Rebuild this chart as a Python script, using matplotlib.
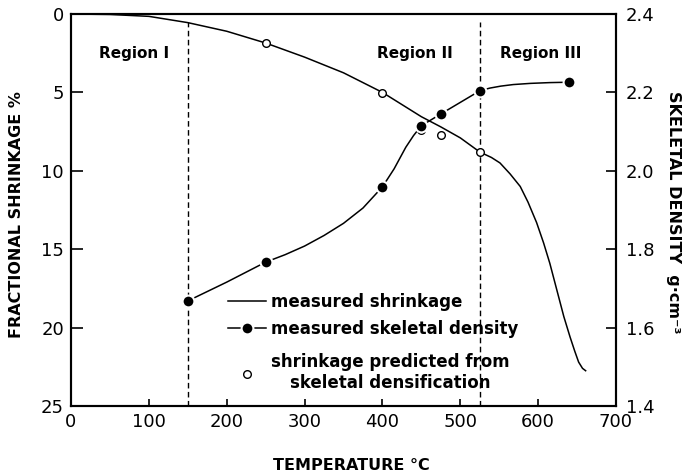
import matplotlib.pyplot as plt
from matplotlib.lines import Line2D

# measured shrinkage trace (temperature in C, shrinkage in %)
shrink_temp = [0, 50, 100, 150, 200, 250, 300, 350, 400, 450, 475, 500, 525, 540, 551,
               564, 577, 587, 598, 607, 615, 624, 633, 641, 647, 652, 657, 661]
shrink_pct = [0, 0.03, 0.15, 0.55, 1.1, 1.85, 2.75, 3.75, 5.0, 6.55, 7.2, 7.9, 8.8, 9.15, 9.5,
              10.2, 11.0, 12.0, 13.3, 14.6, 15.9, 17.6, 19.3, 20.6, 21.5, 22.2, 22.6, 22.75]

# skeletal density, measured points and the drawn curve through them
dens_temp = [150, 250, 400, 450, 475, 525, 640]
dens_val = [1.668, 1.767, 1.959, 2.115, 2.145, 2.204, 2.226]
dens_curve_temp = [150, 200, 250, 275, 300, 325, 350, 375, 400, 415, 430, 440, 450, 475,
                   525, 538, 552, 568, 590, 615, 640]
dens_curve_val = [1.668, 1.716, 1.767, 1.786, 1.808, 1.835, 1.866, 1.905, 1.959, 2.005,
                  2.06, 2.09, 2.115, 2.145, 2.204, 2.211, 2.216, 2.220, 2.223, 2.225, 2.226]

# shrinkage predicted from skeletal densification
pred_temp = [250, 400, 450, 475, 525]
pred_pct = [1.85, 5.05, 7.4, 7.7, 8.8]

region_bounds = [150, 525]
region_names = ['Region I', 'Region II', 'Region III']
region_x = [81, 442, 603]
region_y = 2.5


def main():
    plt.rcParams['font.family'] = 'DejaVu Sans'
    fig = plt.figure(figsize=(6.87, 4.74), dpi=100)
    ax = fig.add_axes([71 / 687, 68 / 474, 545 / 687, 392 / 474])
    ax2 = ax.twinx()

    ax.set_xlim(0, 700)
    ax.set_ylim(25, 0)
    ax2.set_ylim(1.4, 2.4)

    for b in region_bounds:
        ax.axvline(b, ymin=0, ymax=0.98, color='k', lw=1, ls=(0, (4, 2.5)))

    ax.plot(shrink_temp, shrink_pct, 'k-', lw=1.1, zorder=3)
    ax2.plot(dens_curve_temp, dens_curve_val, 'k-', lw=1.1, zorder=3)
    ax.plot(pred_temp, pred_pct, 'o', ms=5.5, mfc='white', mec='k', mew=1, zorder=4)
    ax2.plot(dens_temp, dens_val, 'o', ms=8.5, mfc='k', mec='white', mew=1.5, zorder=5)

    for name, x in zip(region_names, region_x):
        ax.text(x, region_y, name, ha='center', va='center', fontsize=11, fontweight='bold')

    # x ticks, left and right scales
    ax.set_xticks(range(0, 701, 100))
    ax.set_yticks(range(0, 26, 5))
    ax2.set_yticks([1.4, 1.6, 1.8, 2.0, 2.2, 2.4])
    ax2.set_yticklabels(['1.4', '1.6', '1.8', '2.0', '2.2', '2.4'])
    ax.tick_params(axis='x', direction='in', length=5, width=1.2, labelsize=13, pad=5)
    ax.tick_params(axis='y', direction='in', length=8.5, width=1.2, labelsize=13, pad=5)
    ax2.tick_params(axis='y', direction='in', length=7, width=1.2, labelsize=13, pad=7)
    for a in (ax, ax2):
        for s in a.spines.values():
            s.set_linewidth(1.5)

    leg_style = dict(loc='upper left', frameon=False, borderpad=0, borderaxespad=0,
                     numpoints=1, handlelength=2.3, handletextpad=0.3, labelspacing=0.55,
                     prop={'weight': 'bold', 'size': 12})
    handles = [
        Line2D([], [], color='k', lw=1.1),
        Line2D([], [], color='k', lw=1.1, marker='o', ms=8.5, mfc='k', mec='white', mew=1.5),
    ]
    leg1 = ax.legend(handles, ['measured shrinkage', 'measured skeletal density'],
                     bbox_to_anchor=(0.288, 0.288), **leg_style)
    ax.add_artist(leg1)
    pred_handle = Line2D([], [], ls='none', marker='o', ms=5.5, mfc='white', mec='k', mew=1)
    leg2 = ax.legend([pred_handle], ['shrinkage predicted from\nskeletal densification'],
                     bbox_to_anchor=(0.288, 0.134), **leg_style)
    for t in leg2.get_texts():
        t.set_multialignment('center')

    fig.text(17 / 687, 1 - 215 / 474, 'FRACTIONAL SHRINKAGE %', rotation=90,
             ha='center', va='center', fontsize=11.5, fontweight='bold')
    fig.text(351 / 687, 1 - 465 / 474, 'TEMPERATURE °C',
             ha='center', va='center', fontsize=11.5, fontweight='bold')
    fig.text(673 / 687, 1 - 212 / 474, 'SKELETAL DENSITY  g·cm⁻³', rotation=-90,
             ha='center', va='center', fontsize=11.5, fontweight='bold')

    plt.savefig('out.png', dpi=100)


if __name__ == '__main__':
    main()
